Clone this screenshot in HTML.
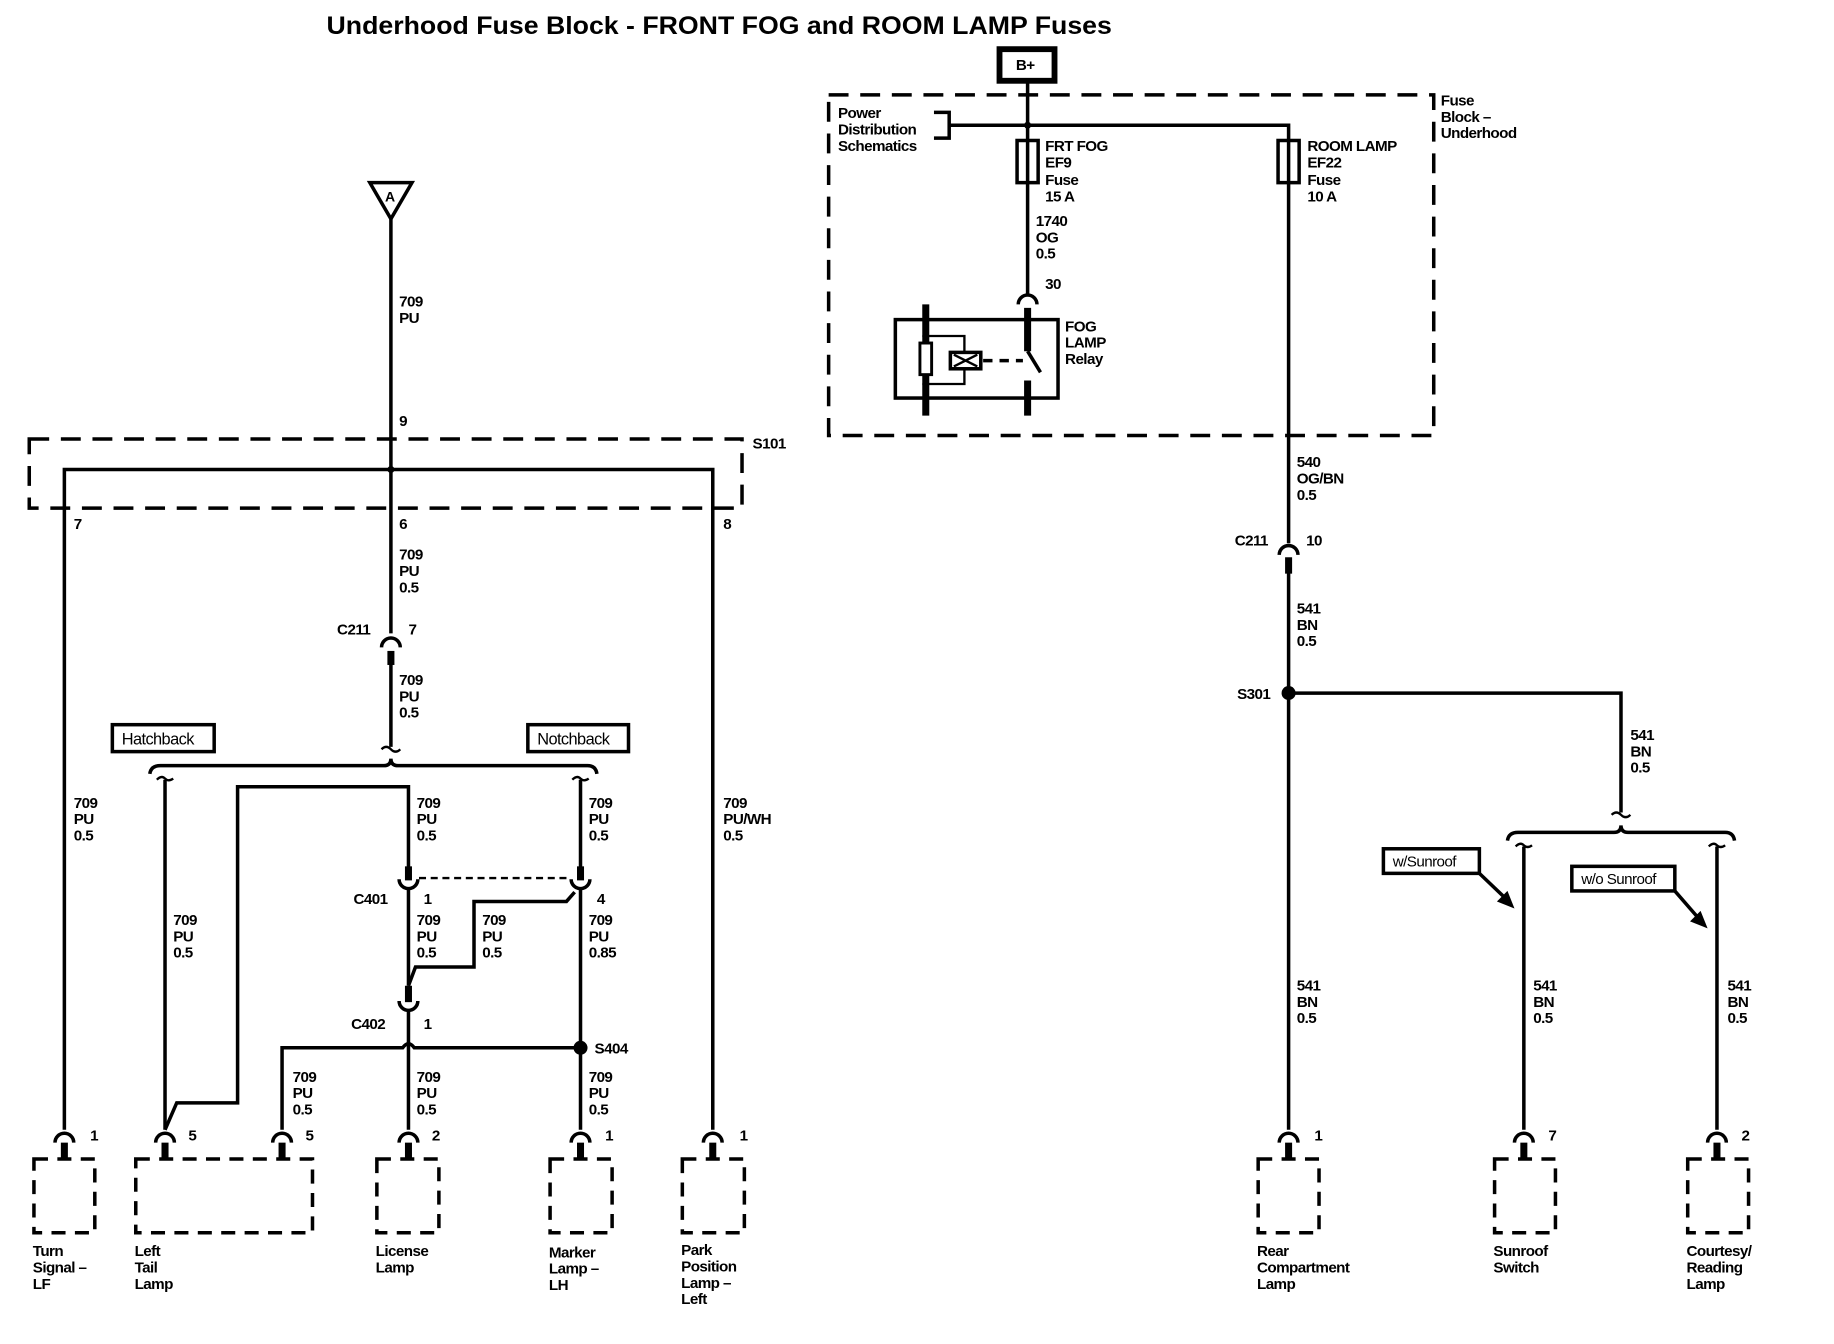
<!DOCTYPE html>
<html><head><meta charset="utf-8"><style>
html,body{margin:0;padding:0;background:#fff;}
svg{display:block;}
text{font-family:"Liberation Sans",Arial,sans-serif;font-weight:bold;font-size:13px;fill:#000;letter-spacing:-0.5px;}
.t{font-size:21px;letter-spacing:0;}
.w{fill:none;stroke:#000;stroke-width:3;}
.s{fill:none;stroke:#000;stroke-width:6;}
.d{fill:none;stroke:#000;stroke-width:3;stroke-dasharray:17 10;}
.th{fill:none;stroke:#000;stroke-width:2;}
</style></head><body>
<svg width="1834" height="1344" viewBox="0 0 1567 1148" preserveAspectRatio="none" xmlns="http://www.w3.org/2000/svg">
<text class="t" x="279" y="29" textLength="671" lengthAdjust="spacingAndGlyphs">Underhood Fuse Block - FRONT FOG and ROOM LAMP Fuses</text>

<!-- LEFT -->
<polygon points="316,156 352,156 334,187" class="w"/>
<text x="329" y="172" style="font-size:12px">A</text>
<path class="w" d="M334,187 V541"/>
<text x="341" y="262">709</text><text x="341" y="276">PU</text>
<text x="341" y="364">9</text>
<rect x="25" y="375" width="609" height="59" class="d"/>
<text x="643" y="383">S101</text>
<path class="w" d="M55,965 V401 H609 V965"/>
<circle cx="334" cy="401" r="3"/>
<text x="63" y="452">7</text><text x="341" y="452">6</text><text x="618" y="452">8</text>
<text x="341" y="478">709</text><text x="341" y="492">PU</text><text x="341" y="506">0.5</text>
<path class="w" d="M326,553 A8,8 0 0 1 342,553"/>
<path class="s" d="M334,556 V568"/>
<path class="w" d="M334,566 V638"/>
<text x="288" y="542">C211</text><text x="349" y="542">7</text>
<text x="341" y="585">709</text><text x="341" y="599">PU</text><text x="341" y="613">0.5</text>
<path class="th" d="M326,640 q4,-4 8,0 q4,4 8,0"/>
<rect x="96" y="619" width="87" height="23" class="w"/><text x="104" y="636" style="font-weight:normal;font-size:14px">Hatchback</text>
<rect x="451" y="619" width="86" height="23" class="w"/><text x="459" y="636" style="font-weight:normal;font-size:14px">Notchback</text>
<path class="w" d="M128,661 Q129,654 137,654 H328 Q334,654 334,648 Q334,654 340,654 H502 Q509,654 510,661"/>
<path class="th" d="M134,666 q4,-4 7,-1 q3,3 7,0"/>
<path class="th" d="M489,666 q4,-4 7,-1 q3,3 7,0"/>
<path class="w" d="M141,666 V965"/>
<path class="w" d="M496,666 V744"/>
<path class="w" d="M349,744 V672 H203 V942 H151 L141,965"/>
<text x="63" y="690">709</text><text x="63" y="704">PU</text><text x="63" y="718">0.5</text>
<text x="618" y="690">709</text><text x="618" y="704">PU/WH</text><text x="618" y="718">0.5</text>
<text x="356" y="690">709</text><text x="356" y="704">PU</text><text x="356" y="718">0.5</text>
<text x="503" y="690">709</text><text x="503" y="704">PU</text><text x="503" y="718">0.5</text>
<text x="148" y="790">709</text><text x="148" y="804">PU</text><text x="148" y="818">0.5</text>
<!-- C401 -->
<path class="s" d="M349,740 V752"/><path class="s" d="M496,740 V752"/>
<path class="w" d="M341,751 A8,8 0 0 0 357,751"/>
<path class="w" d="M488,751 A8,8 0 0 0 504,751"/>
<path fill="none" stroke="#000" stroke-width="2" stroke-dasharray="6 4" d="M358,750 H487"/>
<text x="302" y="772">C401</text><text x="362" y="772">1</text><text x="510" y="772">4</text>
<path class="w" d="M349,759 V842"/>
<path class="w" d="M496,759 V965"/>
<path class="w" d="M491,762 L484,770 H405 V826 H355 L349,842"/>
<text x="356" y="790">709</text><text x="356" y="804">PU</text><text x="356" y="818">0.5</text>
<text x="412" y="790">709</text><text x="412" y="804">PU</text><text x="412" y="818">0.5</text>
<text x="503" y="790">709</text><text x="503" y="804">PU</text><text x="503" y="818">0.85</text>
<!-- C402 -->
<path class="s" d="M349,842 V856"/>
<path class="w" d="M341,855 A8,8 0 0 0 357,855"/>
<text x="300" y="879">C402</text><text x="362" y="879">1</text>
<path class="w" d="M349,862 V965"/>
<path class="w" d="M241,965 V895 H344 Q349,888 354,895 H496"/>
<circle cx="496" cy="895" r="6"/>
<text x="508" y="900">S404</text>
<text x="250" y="924">709</text><text x="250" y="938">PU</text><text x="250" y="952">0.5</text>
<text x="356" y="924">709</text><text x="356" y="938">PU</text><text x="356" y="952">0.5</text>
<text x="503" y="924">709</text><text x="503" y="938">PU</text><text x="503" y="952">0.5</text>
<!-- bottom connectors left -->
<g>
<path class="w" d="M47,976 A8,8 0 0 1 63,976"/><path class="s" d="M55,976 V990"/>
<path class="w" d="M133,976 A8,8 0 0 1 149,976"/><path class="s" d="M141,976 V990"/>
<path class="w" d="M233,976 A8,8 0 0 1 249,976"/><path class="s" d="M241,976 V990"/>
<path class="w" d="M341,976 A8,8 0 0 1 357,976"/><path class="s" d="M349,976 V990"/>
<path class="w" d="M488,976 A8,8 0 0 1 504,976"/><path class="s" d="M496,976 V990"/>
<path class="w" d="M601,976 A8,8 0 0 1 617,976"/><path class="s" d="M609,976 V990"/>
</g>
<text x="77" y="974">1</text><text x="161" y="974">5</text><text x="261" y="974">5</text><text x="369" y="974">2</text><text x="517" y="974">1</text><text x="632" y="974">1</text>
<g class="d" style="stroke-dasharray:12 8">
<rect x="29" y="990" width="52" height="63"/>
<rect x="116" y="990" width="151" height="63"/>
<rect x="322" y="990" width="53" height="63"/>
<rect x="470" y="990" width="53" height="63"/>
<rect x="583" y="990" width="53" height="63"/>
</g>
<g style="font-weight:normal">
<text x="28" y="1073">Turn</text><text x="28" y="1087">Signal –</text><text x="28" y="1101">LF</text>
<text x="115" y="1073">Left</text><text x="115" y="1087">Tail</text><text x="115" y="1101">Lamp</text>
<text x="321" y="1073">License</text><text x="321" y="1087">Lamp</text>
<text x="469" y="1074">Marker</text><text x="469" y="1088">Lamp –</text><text x="469" y="1102">LH</text>
<text x="582" y="1072">Park</text><text x="582" y="1086">Position</text><text x="582" y="1100">Lamp –</text><text x="582" y="1114">Left</text>
</g>

<!-- RIGHT -->
<rect x="854" y="42" width="47" height="27" fill="none" stroke="#000" stroke-width="5"/>
<text x="868" y="60">B+</text>
<rect x="708" y="81" width="517" height="291" class="d"/>
<g style="font-weight:normal">
<text x="1231" y="90">Fuse</text><text x="1231" y="104">Block –</text><text x="1231" y="118">Underhood</text>
<text x="716" y="101">Power</text><text x="716" y="115">Distribution</text><text x="716" y="129">Schematics</text>
<text x="893" y="129">FRT FOG</text><text x="893" y="143">EF9</text><text x="893" y="158">Fuse</text><text x="893" y="172">15 A</text>
<text x="1117" y="129">ROOM LAMP</text><text x="1117" y="143">EF22</text><text x="1117" y="158">Fuse</text><text x="1117" y="172">10 A</text>
<text x="885" y="193">1740</text><text x="885" y="207">OG</text><text x="885" y="221">0.5</text>
<text x="893" y="247">30</text>
<text x="910" y="283">FOG</text><text x="910" y="297">LAMP</text><text x="910" y="311">Relay</text>
</g>
<path class="w" d="M878,69 V120"/>
<path class="w" d="M798,96 H811 V118 H798"/>
<path class="w" d="M811,107 H1101 V120"/>
<circle cx="878" cy="107" r="3"/>
<rect x="869" y="120" width="18" height="36" class="w"/><path class="w" d="M878,120 V156"/>
<rect x="1092" y="120" width="18" height="36" class="w"/><path class="w" d="M1101,120 V156"/>
<path class="w" d="M878,156 V252"/>
<path class="w" d="M870,260 A8,8 0 0 1 886,260"/>
<rect x="765" y="273" width="139" height="67" class="w"/>
<path class="s" d="M791,260 V355"/>
<path class="s" d="M878,263 V300"/>
<path class="w" d="M878,300 L889,318"/>
<path class="s" d="M878,325 V355"/>
<rect x="786" y="293" width="10" height="27" fill="#fff" stroke="#000" stroke-width="2.5"/>
<circle cx="791" cy="287" r="3"/><circle cx="791" cy="328" r="3"/>
<path class="th" d="M791,287 H824 V301 M824,314 V328 H791"/>
<rect x="812" y="301" width="26" height="14" fill="#fff" stroke="#000" stroke-width="3"/>
<path class="th" d="M815,303 L835,313 M835,303 L815,313"/>
<path fill="none" stroke="#000" stroke-width="3" stroke-dasharray="8 6" d="M840,308 H874"/>
<path class="w" d="M1101,156 V464"/>
<text x="1108" y="399">540</text><text x="1108" y="413">OG/BN</text><text x="1108" y="427">0.5</text>
<text x="1055" y="466">C211</text><text x="1116" y="466">10</text>
<path class="w" d="M1093,474 A8,8 0 0 1 1109,474"/>
<path class="s" d="M1101,476 V490"/>
<path class="w" d="M1101,488 V965"/>
<text x="1108" y="524">541</text><text x="1108" y="538">BN</text><text x="1108" y="552">0.5</text>
<circle cx="1101" cy="592" r="6"/>
<text x="1057" y="597">S301</text>
<path class="w" d="M1101,592 H1385 V694"/>
<text x="1393" y="632">541</text><text x="1393" y="646">BN</text><text x="1393" y="660">0.5</text>
<path class="th" d="M1377,696 q4,-4 8,0 q4,4 8,0"/>
<path class="w" d="M1288,718 Q1289,711 1297,711 H1379 Q1385,711 1385,705 Q1385,711 1391,711 H1474 Q1481,711 1482,718"/>
<path class="th" d="M1295,723 q4,-4 7,-1 q3,3 7,0"/>
<path class="th" d="M1460,723 q4,-4 7,-1 q3,3 7,0"/>
<path class="w" d="M1302,723 V965"/>
<path class="w" d="M1467,723 V965"/>
<rect x="1182" y="725" width="82" height="21" class="w"/><text x="1190" y="740" style="font-weight:normal">w/Sunroof</text>
<rect x="1343" y="740" width="88" height="21" class="w"/><text x="1351" y="755" style="font-weight:normal">w/o Sunroof</text>
<path class="w" d="M1264,746 L1286,767"/><polygon points="1294,776 1279,770 1288,761"/>
<path class="w" d="M1431,761 L1451,784"/><polygon points="1459,793 1444,787 1453,778"/>
<text x="1108" y="846">541</text><text x="1108" y="860">BN</text><text x="1108" y="874">0.5</text>
<text x="1310" y="846">541</text><text x="1310" y="860">BN</text><text x="1310" y="874">0.5</text>
<text x="1476" y="846">541</text><text x="1476" y="860">BN</text><text x="1476" y="874">0.5</text>
<path class="w" d="M1093,976 A8,8 0 0 1 1109,976"/><path class="s" d="M1101,976 V990"/>
<path class="w" d="M1294,976 A8,8 0 0 1 1310,976"/><path class="s" d="M1302,976 V990"/>
<path class="w" d="M1459,976 A8,8 0 0 1 1475,976"/><path class="s" d="M1467,976 V990"/>
<text x="1123" y="974">1</text><text x="1323" y="974">7</text><text x="1488" y="974">2</text>
<g class="d" style="stroke-dasharray:12 8">
<rect x="1075" y="990" width="52" height="63"/>
<rect x="1277" y="990" width="52" height="63"/>
<rect x="1442" y="990" width="52" height="63"/>
</g>
<g style="font-weight:normal">
<text x="1074" y="1073">Rear</text><text x="1074" y="1087">Compartment</text><text x="1074" y="1101">Lamp</text>
<text x="1276" y="1073">Sunroof</text><text x="1276" y="1087">Switch</text>
<text x="1441" y="1073">Courtesy/</text><text x="1441" y="1087">Reading</text><text x="1441" y="1101">Lamp</text>
</g>
</svg>
</body></html>
